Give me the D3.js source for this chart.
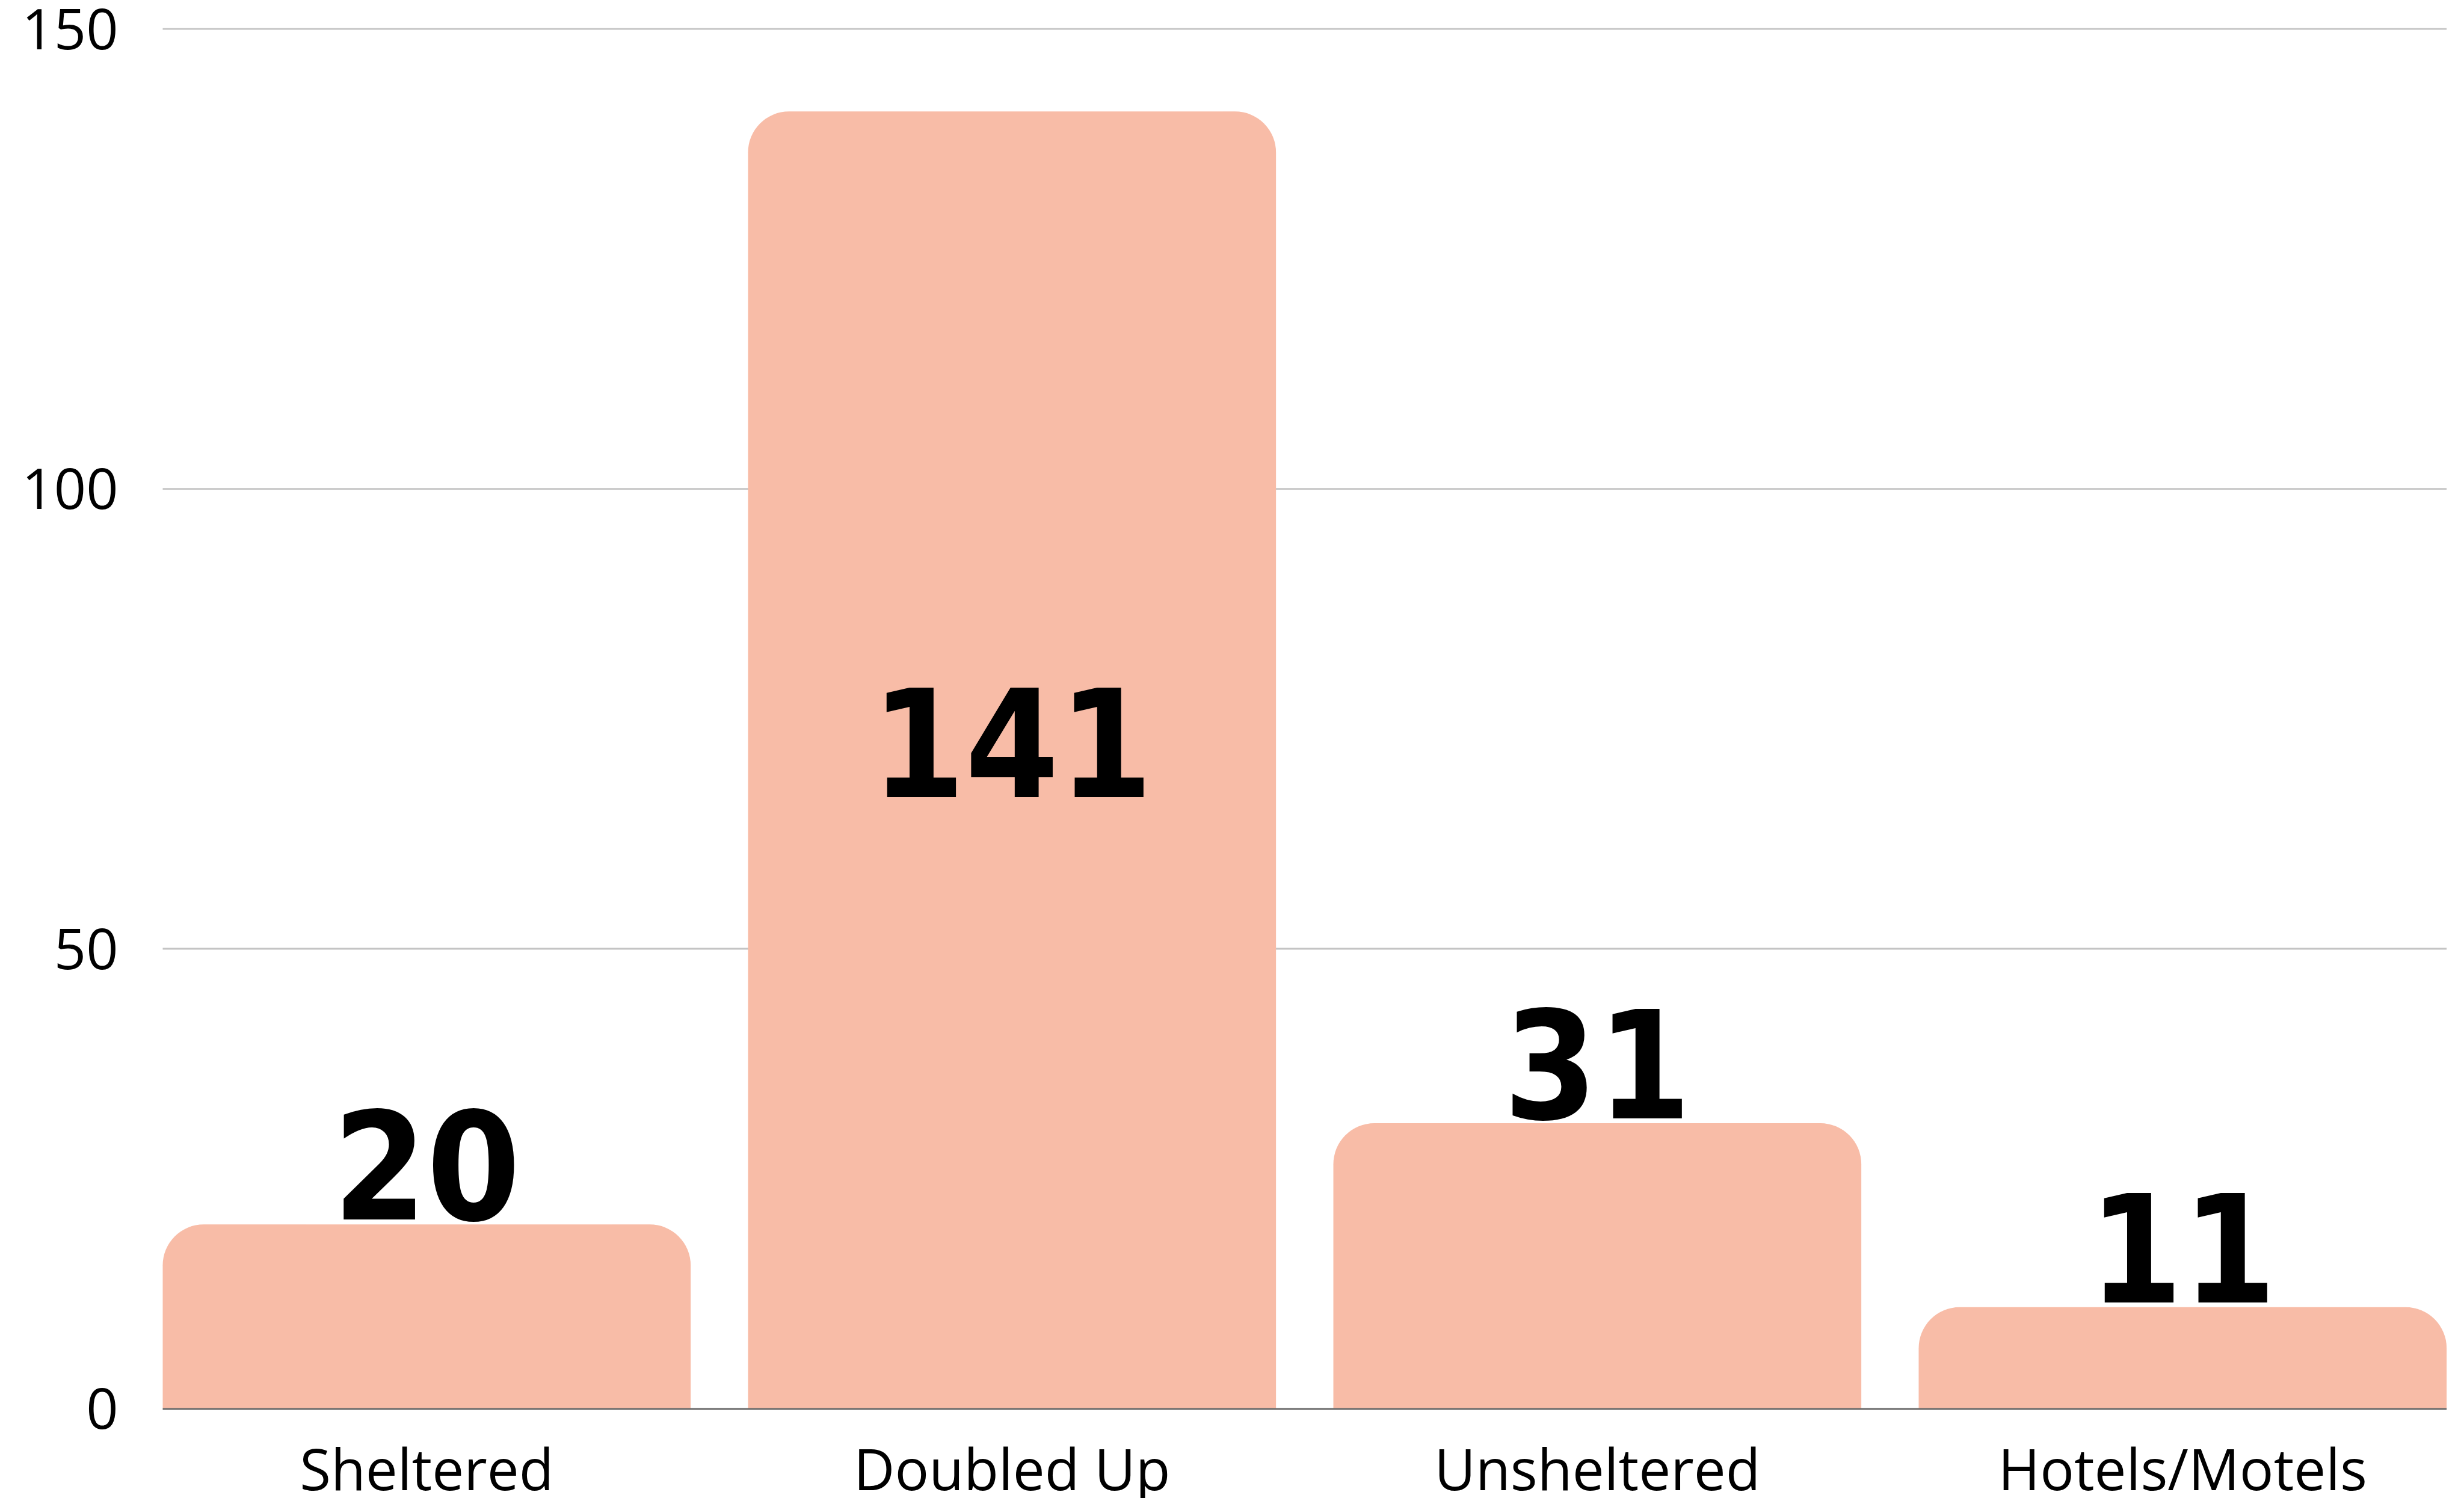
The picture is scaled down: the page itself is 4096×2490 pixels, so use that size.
<!DOCTYPE html>
<html>
<head>
<meta charset="utf-8">
<script src="https://cdn.jsdelivr.net/npm/d3@7"></script>
<style>
  html, body { margin: 0; padding: 0; background: #ffffff; }
  svg { display: block; }
</style>
</head>
<body>
<script>
// ---- data ----
const categories = ["Sheltered", "Doubled Up", "Unsheltered", "Hotels/Motels"];
const values = [20, 141, 31, 11];
const yTicks = [0, 50, 100, 150];

// ---- layout (reference pixel units, scaled by S) ----
const S = 0.973;
const plotLeft = 278, plotRight = 4180, plotTop = 49, plotBottom = 2406;
const barColor = "#f8bca7";
const radius = 70;

const svg = d3.select("body").append("svg")
  .attr("width", 4096).attr("height", 2490);
const g = svg.append("g").attr("transform", `scale(${S})`);

const x = d3.scaleBand().domain(categories).range([plotLeft, plotRight])
  .paddingInner(0.098).paddingOuter(0);
const y = d3.scaleLinear().domain([0, 150]).range([plotBottom, plotTop]);

// gridlines + y tick labels
const yAxis = d3.axisLeft(y).tickValues(yTicks).tickSize(-(plotRight - plotLeft)).tickPadding(76);
const ya = g.append("g").attr("transform", `translate(${plotLeft},0)`).call(yAxis);
ya.select(".domain").remove();
ya.selectAll(".tick line").attr("stroke", "#c4c4c4").attr("stroke-width", 3)
  .filter(d => d === 0).remove();
ya.selectAll(".tick text")
  .attr("font-family", "'Open Sans', sans-serif")
  .attr("font-size", 96).attr("fill", "#000")
  .attr("x", -76).attr("dy", "0.36em");

// bars with rounded top corners
function roundedTop(x0, w, yTop, yBase, r) {
  const rr = Math.min(r, w / 2, (yBase - yTop));
  return `M${x0},${yBase} L${x0},${yTop + rr} A${rr},${rr} 0 0 1 ${x0 + rr},${yTop} ` +
         `L${x0 + w - rr},${yTop} A${rr},${rr} 0 0 1 ${x0 + w},${yTop + rr} L${x0 + w},${yBase} Z`;
}

const data = categories.map((c, i) => ({ c, v: values[i] }));

g.append("g").selectAll("path").data(data).join("path")
  .attr("d", d => roundedTop(x(d.c), x.bandwidth(), y(d.v), y(0), radius))
  .attr("fill", barColor);

// baseline
g.append("line")
  .attr("x1", plotLeft).attr("x2", plotRight)
  .attr("y1", y(0) + 1).attr("y2", y(0) + 1)
  .attr("stroke", "#6b6b6b").attr("stroke-width", 3);

// value labels
g.append("g").selectAll("text").data(data).join("text")
  .attr("x", d => x(d.c) + x.bandwidth() / 2)
  .attr("y", d => d.v > 100 ? (y(d.v) + y(0)) / 2 + 64 : y(d.v) - 8)
  .attr("text-anchor", "middle")
  .attr("font-family", "'DejaVu Sans Condensed', 'DejaVu Sans', sans-serif")
  .style("font-stretch", "condensed")
  .attr("font-weight", "bold")
  .attr("font-size", 256)
  .attr("fill", "#000")
  .text(d => d.v);

// category labels
const xAxis = d3.axisBottom(x).tickSize(0).tickPadding(0);
const xa = g.append("g").attr("transform", `translate(0,${plotBottom})`).call(xAxis);
xa.select(".domain").remove();
xa.selectAll(".tick text")
  .attr("font-family", "'Open Sans', sans-serif")
  .attr("font-size", 97).attr("fill", "#000")
  .attr("y", 140).attr("dy", 0);
</script>
</body>
</html>
